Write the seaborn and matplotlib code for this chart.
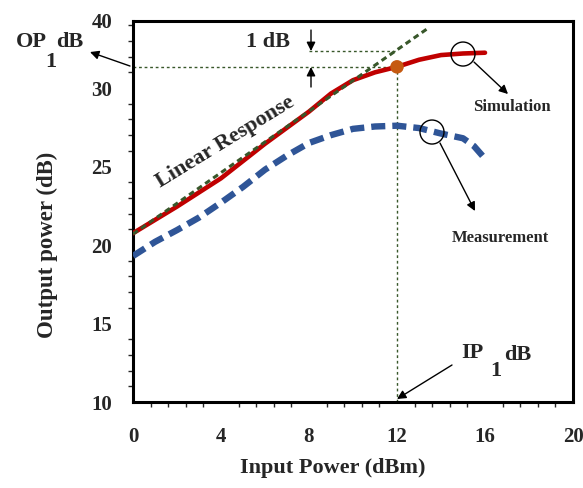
import matplotlib
matplotlib.use('Agg')
import matplotlib.pyplot as plt
import seaborn as sns
from matplotlib.patches import Ellipse
from matplotlib.ticker import MultipleLocator, FixedLocator

# ---------------- data ----------------
sim_x = [0, 2, 4, 6, 8, 9, 10, 11, 12, 13, 14, 15, 16]
sim_y = [20.75, 22.45, 24.25, 26.45, 28.5, 29.65, 30.5, 31.0, 31.35, 31.8, 32.1, 32.2, 32.25]
meas_x = [0, 1, 2, 3, 4, 5, 6, 7, 8, 9, 10, 11, 12, 13, 14, 15, 15.5, 16]
meas_y = [19.3, 20.2, 20.95, 21.75, 22.7, 23.7, 24.8, 25.7, 26.5, 27.0, 27.4, 27.55, 27.6,
          27.45, 27.1, 26.8, 26.3, 25.5]
lin_x = [0, 13.4]
lin_y = [20.7, 33.8]
p1db_x = 12.0
p1db_y = 31.35
one_db_y = 32.35
one_db_start_x = 8.0
x_ticks = [0, 4, 8, 12, 16, 20]
y_ticks = [10, 15, 20, 25, 30, 34.27]
y_ticklabels = ['10', '15', '20', '25', '30', '40']

W, H = 583, 488
sns.set_style('white')
plt.rcParams['font.family'] = ['Liberation Serif', 'DejaVu Serif']
plt.rcParams['font.weight'] = 'bold'
plt.rcParams['axes.labelweight'] = 'bold'

fig = plt.figure(figsize=(W / 100, H / 100), dpi=100)
ax = fig.add_axes([133 / W, 1 - 402 / H, 440 / W, 381 / H])


def d(px, py):
    return ((px - 133) / 22.0, 10 + (402 - py) / 15.7)


def f(px, py):
    return (px / W, 1 - py / H)


GREEN = '#38572a'
RED = '#c00000'
BLUE = '#2f5597'

sns.lineplot(x=sim_x, y=sim_y, ax=ax, color=RED, lw=3.3, zorder=3)
sns.lineplot(x=meas_x, y=meas_y, ax=ax, color=BLUE, lw=4.6, zorder=3)
ax.get_lines()[-1].set_dashes((2.2, 1.1))
sns.lineplot(x=lin_x, y=lin_y, ax=ax, color=GREEN, lw=2.2, zorder=4)
ax.get_lines()[-1].set_dashes((1.9, 1.3))

# guide lines
ax.plot([0, p1db_x], [p1db_y, p1db_y], color=GREEN, lw=1, ls=(0, (2, 2)), zorder=2)
ax.plot([one_db_start_x, p1db_x], [one_db_y, one_db_y], color=GREEN, lw=1, ls=(0, (2, 2)), zorder=2)
ax.plot([p1db_x, p1db_x], [10, p1db_y], color=GREEN, lw=1, ls=(0, (2, 2)), zorder=2)
sns.scatterplot(x=[p1db_x], y=[p1db_y], ax=ax, s=95, color='#c55a11', edgecolor='none', zorder=6)

ax.set_xlim(0, 20)
ax.set_ylim(10, 34.27)
ax.xaxis.set_major_locator(FixedLocator(x_ticks))
ax.set_xticklabels([str(t) for t in x_ticks])
ax.yaxis.set_major_locator(FixedLocator(y_ticks))
ax.set_yticklabels(y_ticklabels)
ax.xaxis.set_minor_locator(MultipleLocator(0.8))
ax.yaxis.set_minor_locator(MultipleLocator(1))
ax.tick_params(axis='y', which='major', direction='out', length=7, width=1.5, pad=8, labelsize=15)
ax.tick_params(axis='y', which='minor', direction='out', length=3.5, width=1, left=True)
ax.tick_params(axis='x', which='major', direction='out', length=5, width=1.5, pad=13, labelsize=15)
ax.tick_params(axis='x', which='minor', direction='out', length=3.5, width=1, bottom=True)
ax.xaxis.get_major_ticks()[0].tick1line.set_markersize(12)
ax.xaxis.get_major_ticks()[0].tick1line.set_markeredgewidth(2.2)
ax.yaxis.get_major_ticks()[0].tick1line.set_markeredgewidth(2.2)
for s in ax.spines.values():
    s.set_linewidth(2.2)
    s.set_color('black')

ax.set_xlabel('Input Power (dBm)', fontsize=16)
ax.xaxis.set_label_coords(0.455, -0.147)
ax.set_ylabel('Output power (dB)', fontsize=16.5)
ax.yaxis.set_label_coords(-0.17, 0.412)

# circles
for (cx, cy) in [(463, 54), (432, 132)]:
    xy = d(cx, cy)
    ax.add_patch(Ellipse(xy, 24 / 22.0, 24 / 15.7, fill=False, ec='black', lw=1, zorder=7))

arrow = dict(arrowstyle='-|>', color='black', lw=1, mutation_scale=13, shrinkA=0, shrinkB=0)
for tail, head in [((474, 62), (508, 94)), ((440, 143), (475, 211)), ((130, 66), (90, 52)),
                   ((452, 365), (397, 399)), ((311, 30), (311, 51)), ((311, 87), (311, 67))]:
    ax.annotate('', xy=d(*head), xytext=d(*tail), arrowprops=arrow, annotation_clip=False)

tk = dict(ha='center', va='center', fontweight='bold', transform=fig.transFigure)
fig.text(*f(268, 42), '1 dB', fontsize=16, **tk)
fig.text(*f(225, 142), 'Linear Response', fontsize=16, rotation=31.5, **tk)
fig.text(*f(512, 107), 'Simulation', fontsize=12, **tk)
fig.text(*f(500, 238), 'Measurement', fontsize=12, **tk)
fig.text(*f(31, 42), 'OP', fontsize=16, **tk)
fig.text(*f(51, 62), '1', fontsize=16, **tk)
fig.text(*f(70, 42), 'dB', fontsize=16, **tk)
fig.text(*f(472, 353), 'IP', fontsize=16, **tk)
fig.text(*f(496, 371), '1', fontsize=16, **tk)
fig.text(*f(518, 355), 'dB', fontsize=16, **tk)

fig.savefig('out.png', dpi=100)
